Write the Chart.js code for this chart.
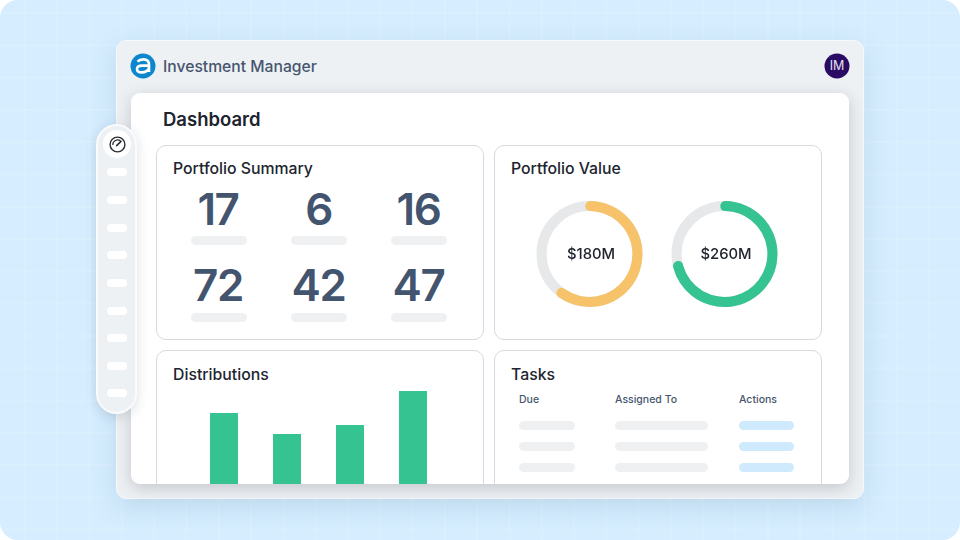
<!DOCTYPE html>
<html>
<head>
<meta charset="utf-8">
<title>Investment Manager</title>
<script src="https://cdn.jsdelivr.net/npm/chart.js@4"></script>
<style>
html, body { margin: 0; padding: 0; background: #fff; }
body { width: 960px; height: 540px; overflow: hidden; position: relative; font-family: Inter, "Liberation Sans", sans-serif; }
div, canvas, svg { position: absolute; }
#bg {
    left: 0; top: 0; width: 960px; height: 540px; border-radius: 18px; overflow: hidden;
    background-color: #d5edfe;
    background-image:
        linear-gradient(rgba(255,255,255,.13) 2px, transparent 2px),
        linear-gradient(90deg, rgba(255,255,255,.13) 2px, transparent 2px);
    background-size: 32.3px 32.3px;
    background-position: 24px 12px;
}
#win {
    left: 116px; top: 40px; width: 748px; height: 459px; border-radius: 10px;
    background: #eef1f4; border: 1px solid #f6f8fa; box-sizing: border-box;
    box-shadow: 0 8px 26px rgba(90,130,165,.18);
}
#main {
    left: 131px; top: 93px; width: 718px; height: 391px; border-radius: 9px;
    background: #fff; overflow: hidden;
}
#mainShadow {
    left: 131px; top: 93px; width: 718px; height: 391px; border-radius: 9px;
    box-shadow: 0 4px 16px rgba(40,50,60,.22);
}
.card { width: 328px; border: 1px solid #d6dade; border-radius: 10px; box-sizing: border-box; background: #fff; }
.txt { white-space: nowrap; line-height: 1; }
.title { font-size: 15.8px; font-weight: 500; color: #20242e; }
.num { font-size: 44px; font-weight: 600; color: #43546f; transform: translateX(-50%); letter-spacing: -1.4px; }
.bar { height: 9px; border-radius: 5px; background: #eef0f2; }
.ctr { font-size: 14.8px; font-weight: 500; color: #20242e; transform: translate(-50%, -50%); }
.th { font-size: 10.5px; font-weight: 500; color: #47566f; }
#side {
    left: 96px; top: 124px; width: 41px; height: 290px; border-radius: 21px; box-sizing: border-box;
    background: #eef1f4; border: 2px solid #fafbfc; box-shadow: 0 3px 12px rgba(60,80,100,.18);
}
.pill { left: 107px; width: 20px; height: 8px; border-radius: 4px; background: #fff; }
</style>
</head>
<body>
<div id="bg"></div>
<div id="win"></div>
<div id="mainShadow"></div>

<svg style="left:130px;top:53px" width="26" height="26" viewBox="0 0 26 26">
    <circle cx="13" cy="13" r="12.5" fill="#0c87cd"/>
    <path d="M7.5 8.6 C9 7 11 6.4 13.4 6.4 C17 6.4 19 8.4 19 11.6 V19 M19 12.6 H12 C9 12.6 7 14 7 16 C7 18.2 9 19.4 11.6 19.4 C15 19.4 19 17.6 19 14" fill="none" stroke="#fff" stroke-width="2.6"/>
</svg>
<div class="txt" style="left:163px;top:59px;font-size:15.7px;font-weight:500;color:#47566f">Investment Manager</div>
<svg style="left:824px;top:53px" width="26" height="26"><circle cx="13" cy="13" r="12.5" fill="#2a0b63"/></svg>
<div class="txt" style="left:837px;top:66px;font-size:12.5px;color:#e6e0f2;transform:translate(-50%,-50%)">IM</div>

<div id="main"></div>

<div id="side"></div>
<svg style="left:103px;top:130px" width="28" height="28" viewBox="0 0 28 28">
    <circle cx="14" cy="14" r="14" fill="#fff"/>
    <circle cx="14.5" cy="14.5" r="7.4" fill="none" stroke="#2a2d33" stroke-width="1.4"/>
    <path d="M9.8 15 A4.8 4.8 0 0 1 17.6 11" fill="none" stroke="#2a2d33" stroke-width="1.2"/>
    <path d="M13.6 15.6 L18 11.4" stroke="#2a2d33" stroke-width="1.6" stroke-linecap="round"/>
</svg>

<script>
// values
const summaryNumbers = [17, 6, 16, 72, 42, 47];
const summaryCenters = [218, 318.5, 418.5];

const valueLabels = ['$180M', '$260M'];
const valueFilled = [63, 74];
const valueColors = ['#f6c36b', '#35c391'];

const distCategories = ['A', 'B', 'C', 'D'];
const distValues = [71, 50, 59, 93];

const taskHeaders = ['Due', 'Assigned To', 'Actions'];
const taskRowCount = 3;

const sidePillTops = [168, 196, 224, 251, 279, 307, 334, 362, 389];

const main = document.getElementById('main');

function addEl(parent, cls, css, text) {
    const el = document.createElement('div');
    el.className = cls;
    el.style.cssText = css;
    if (text !== undefined) el.textContent = text;
    parent.appendChild(el);
    return el;
}

// everything below is placed in page coordinates
const page = addEl(main, '', 'left:-131px;top:-93px;width:960px;height:540px');

addEl(page, 'txt', 'left:163px;top:110px;font-size:18.5px;font-weight:600;color:#20242e', 'Dashboard');

addEl(page, 'card', 'left:156px;top:145px;height:195px');
addEl(page, 'card', 'left:494px;top:145px;height:195px');
addEl(page, 'card', 'left:156px;top:350px;height:160px');
addEl(page, 'card', 'left:494px;top:350px;height:160px');

addEl(page, 'txt title', 'left:173px;top:161px', 'Portfolio Summary');
addEl(page, 'txt title', 'left:511px;top:161px', 'Portfolio Value');
addEl(page, 'txt title', 'left:173px;top:367px', 'Distributions');
addEl(page, 'txt title', 'left:511px;top:367px', 'Tasks');

summaryNumbers.forEach((n, i) => {
    const cx = summaryCenters[i % 3];
    const row = Math.floor(i / 3);
    addEl(page, 'txt num', `left:${cx}px;top:${row ? 263 : 187}px`, n);
    addEl(page, 'bar', `left:${summaryCenters[i % 3] - 27.5}px;top:${row ? 313 : 236}px;width:56px`);
});

// tasks table
const taskCols = [
    { x: 519, w: 56, color: '#eef0f2' },
    { x: 615, w: 93, color: '#eef0f2' },
    { x: 739, w: 55, color: '#d0eafd' }
];
taskHeaders.forEach((h, i) => {
    addEl(page, 'txt th', `left:${taskCols[i].x}px;top:395px`, h);
    for (let r = 0; r < taskRowCount; r++) {
        addEl(page, 'bar', `left:${taskCols[i].x}px;top:${421 + r * 21}px;width:${taskCols[i].w}px;background:${taskCols[i].color}`);
    }
});

sidePillTops.forEach(t => addEl(document.body, 'pill', `top:${t}px`));

// grey ring behind the value arc
const trackPlugin = {
    id: 'track',
    beforeDatasetsDraw(c) {
        const arc = c.getDatasetMeta(0).data[0];
        const ctx = c.ctx;
        ctx.save();
        ctx.beginPath();
        ctx.arc(arc.x, arc.y, (arc.innerRadius + arc.outerRadius) / 2, 0, Math.PI * 2);
        ctx.lineWidth = arc.outerRadius - arc.innerRadius;
        ctx.strokeStyle = '#e6e8ea';
        ctx.stroke();
        ctx.restore();
    }
};

function addCanvas(css, w, h) {
    const cv = document.createElement('canvas');
    cv.width = w;
    cv.height = h;
    cv.style.cssText = `${css};width:${w}px;height:${h}px`;
    page.appendChild(cv);
    return cv;
}

[529, 664].forEach((left, i) => {
    const cv = addCanvas(`left:${left}px;top:194px`, 121, 120);
    new Chart(cv, {
        type: 'doughnut',
        data: {
            labels: ['Value', 'Rest'],
            datasets: [{
                data: [valueFilled[i], 100 - valueFilled[i]],
                backgroundColor: [valueColors[i], 'rgba(0,0,0,0)'],
                borderWidth: 0,
                borderRadius: [5, 0]
            }]
        },
        options: {
            responsive: false,
            animation: false,
            radius: 53,
            cutout: '81%',
            rotation: -5,
            plugins: { legend: { display: false }, tooltip: { enabled: false } }
        },
        plugins: [trackPlugin]
    });
    addEl(page, 'txt ctr', `left:${left + 62}px;top:254px`, valueLabels[i]);
});

new Chart(addCanvas('left:190px;top:380px', 256, 104), {
    type: 'bar',
    data: {
        labels: distCategories,
        datasets: [{
            data: distValues,
            backgroundColor: '#35c391',
            barPercentage: 0.444,
            categoryPercentage: 1
        }]
    },
    options: {
        responsive: false,
        animation: false,
        layout: { padding: { left: 2.5, right: 1.5 } },
        scales: {
            x: { display: false },
            y: { display: false, min: 0, max: 104 }
        },
        plugins: { legend: { display: false }, tooltip: { enabled: false } }
    }
});
</script>
</body>
</html>
